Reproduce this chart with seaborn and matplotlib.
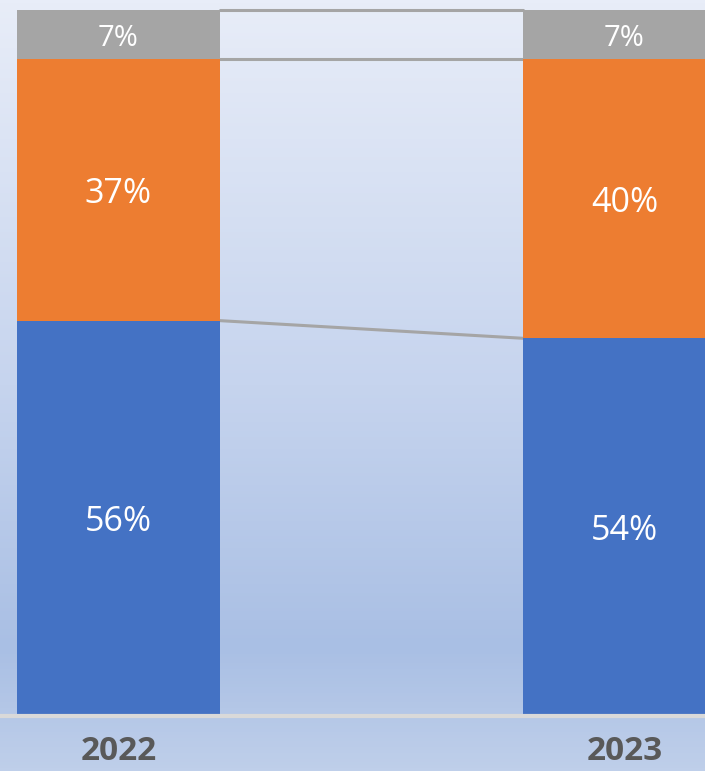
import numpy as np
import pandas as pd
import matplotlib
matplotlib.use("Agg")
import matplotlib.pyplot as plt
from matplotlib.colors import LinearSegmentedColormap
import seaborn as sns

# data (share of total, %)
years = ["2022", "2023"]
blue_vals = [56.0, 53.5]
orange_vals = [37.0, 39.5]
gray_vals = [7.0, 7.0]

colors = {"blue": "#4472C4", "orange": "#ED7D31", "gray": "#A5A5A5"}

sns.set_style("white")
plt.rcParams["font.family"] = ["Open Sans", "DejaVu Sans"]

df = pd.DataFrame({"year": years, "blue": blue_vals, "orange": orange_vals, "gray": gray_vals})
df["top_blue"] = df["blue"]
df["top_orange"] = df["blue"] + df["orange"]
df["top_gray"] = df["top_orange"] + df["gray"]

fig = plt.figure(figsize=(7.05, 7.71), dpi=100)

# gradient background
bg = fig.add_axes([0, 0, 1, 1])
grad_cmap = LinearSegmentedColormap.from_list(
    "bg", [(0.0, "#e8edf8"), (0.5, "#c6d4ee"), (0.84, "#a9bfe4"), (1.0, "#bfcfea")]
)
bg.imshow(np.linspace(0, 1, 256).reshape(-1, 1), aspect="auto", cmap=grad_cmap,
          extent=[0, 1, 0, 1], origin="upper")
bg.set_axis_off()

ax = fig.add_axes([0, 55 / 771, 1, 706 / 771])
ax.set_facecolor("none")

bar_w = 0.401
# stacked look: draw cumulative heights, tallest first
for col, c in [("top_gray", "gray"), ("top_orange", "orange"), ("top_blue", "blue")]:
    sns.barplot(data=df, x="year", y=col, color=colors[c], width=bar_w,
                saturation=1, linewidth=0, edgecolor="none", ax=ax, zorder=2)

# series lines between bars
for col in ["top_blue", "top_orange", "top_gray"]:
    ax.plot([bar_w / 2, 1 - bar_w / 2], df[col].values, color="#A5A5A5", lw=2.2,
            zorder=1, clip_on=False)

# value labels
segs = [("blue", "top_blue", 24.5), ("orange", "top_orange", 24.5), ("gray", "top_gray", 21)]
for i in range(len(df)):
    for name, top, fs in segs:
        val = df.loc[i, name]
        ymid = df.loc[i, top] - val / 2
        ax.annotate(f"{round(val):d}%", (i, ymid), xytext=(0, -3),
                    textcoords="offset points", ha="center", va="center",
                    color="white", fontsize=fs, zorder=3)

ax.set_xlim(-0.234, 1.159)
ax.set_ylim(0, 100)
ax.set_xlabel("")
ax.set_ylabel("")
ax.set_yticks([])
for s in ["top", "right", "left"]:
    ax.spines[s].set_visible(False)
ax.spines["bottom"].set_color("#d9d9d9")
ax.spines["bottom"].set_linewidth(3)
ax.spines["bottom"].set_zorder(4)
ax.tick_params(axis="x", length=0, pad=14)
for lbl in ax.get_xticklabels():
    lbl.set_fontsize(24)
    lbl.set_fontweight("bold")
    lbl.set_color("#595959")

fig.savefig("out.png", dpi=100)
